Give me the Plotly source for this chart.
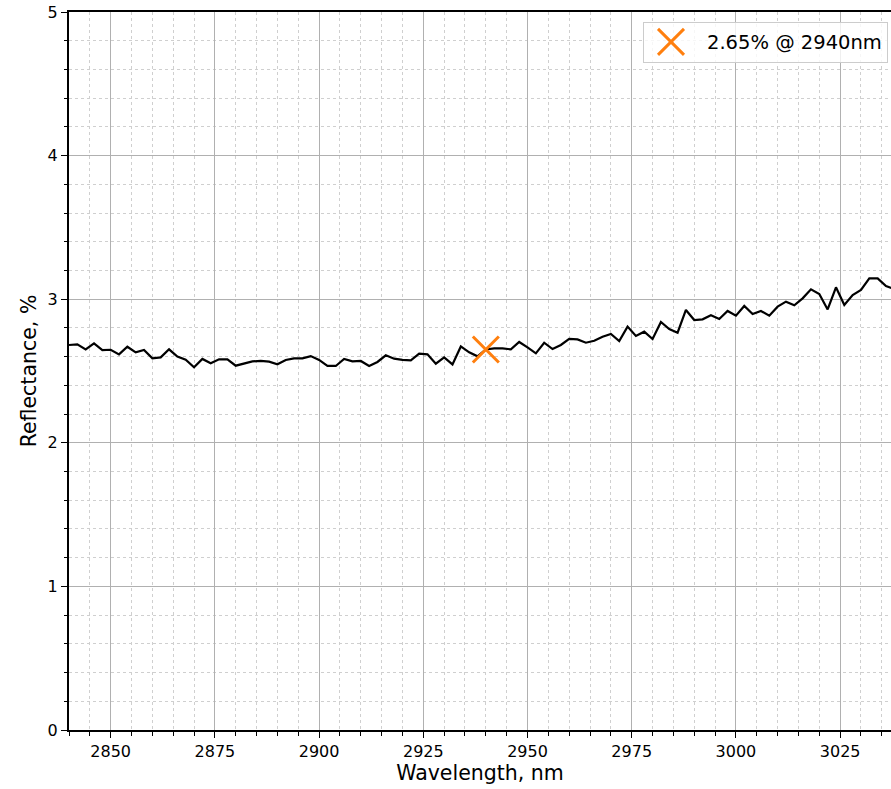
import plotly.graph_objects as go

wavelength_nm = [
    2840, 2842, 2844, 2846, 2848, 2850, 2852, 2854, 2856, 2858,
    2860, 2862, 2864, 2866, 2868, 2870, 2872, 2874, 2876, 2878,
    2880, 2882, 2884, 2886, 2888, 2890, 2892, 2894, 2896, 2898,
    2900, 2902, 2904, 2906, 2908, 2910, 2912, 2914, 2916, 2918,
    2920, 2922, 2924, 2926, 2928, 2930, 2932, 2934, 2936, 2938,
    2940, 2942, 2944, 2946, 2948, 2950, 2952, 2954, 2956, 2958,
    2960, 2962, 2964, 2966, 2968, 2970, 2972, 2974, 2976, 2978,
    2980, 2982, 2984, 2986, 2988, 2990, 2992, 2994, 2996, 2998,
    3000, 3002, 3004, 3006, 3008, 3010, 3012, 3014, 3016, 3018,
    3020, 3022, 3024, 3026, 3028, 3030, 3032, 3034, 3036, 3038,
    3040,
]
reflectance_pct = [
    2.681, 2.686, 2.651, 2.693, 2.646, 2.648, 2.616, 2.669, 2.630, 2.646,
    2.588, 2.595, 2.651, 2.600, 2.579, 2.526, 2.584, 2.554, 2.581, 2.581,
    2.537, 2.554, 2.567, 2.570, 2.565, 2.547, 2.577, 2.588, 2.588, 2.604,
    2.577, 2.535, 2.535, 2.584, 2.567, 2.570, 2.535, 2.563, 2.609, 2.586,
    2.577, 2.574, 2.621, 2.616, 2.551, 2.595, 2.546, 2.671, 2.630, 2.602,
    2.650, 2.657, 2.657, 2.651, 2.702, 2.665, 2.623, 2.697, 2.653, 2.681,
    2.723, 2.720, 2.697, 2.711, 2.739, 2.758, 2.709, 2.809, 2.744, 2.774,
    2.723, 2.841, 2.792, 2.767, 2.925, 2.855, 2.860, 2.888, 2.862, 2.918,
    2.885, 2.953, 2.897, 2.918, 2.885, 2.948, 2.983, 2.958, 3.006, 3.069,
    3.036, 2.929, 3.083, 2.960, 3.029, 3.064, 3.145, 3.145, 3.092, 3.070,
    3.050,
]
marker_wavelength = [2940]
marker_reflectance = [2.65]
marker_label = "2.65% @ 2940nm"

x_ticks = [2850, 2875, 2900, 2925, 2950, 2975, 3000, 3025]
y_ticks = [0, 1, 2, 3, 4, 5]

FONT = "DejaVu Sans"

fig = go.Figure()
fig.add_trace(go.Scatter(
    x=wavelength_nm, y=reflectance_pct, mode="lines",
    line=dict(color="black", width=2.2), showlegend=False, hoverinfo="skip",
))
fig.add_trace(go.Scatter(
    x=marker_wavelength, y=marker_reflectance, mode="markers",
    marker=dict(symbol="x-thin", size=26, line=dict(color="#ff7f0e", width=3), color="#ff7f0e"),
    name=marker_label, showlegend=True,
))

axis_common = dict(
    showline=True, linecolor="black", linewidth=2,
    ticks="outside", ticklen=6, tickwidth=1.3, tickcolor="black",
    showgrid=True, gridcolor="#b0b0b0", gridwidth=1.3,
    zeroline=False,
    tickfont=dict(family=FONT, size=16, color="black"),
)

fig.update_layout(
    width=891, height=789,
    margin=dict(l=69, r=0, t=12, b=59),
    paper_bgcolor="white", plot_bgcolor="white",
    font=dict(family=FONT, color="black"),
    xaxis=dict(
        range=[2840, 3037.2], tickvals=x_ticks, mirror=True,
        title=dict(text="Wavelength, nm", font=dict(family=FONT, size=20.5), standoff=5),
        minor=dict(dtick=5, tick0=2840, showgrid=True, gridcolor="#cfcfcf", griddash="dot",
                   gridwidth=1, ticks="outside", ticklen=3.5, tickcolor="black"),
        **axis_common,
    ),
    yaxis=dict(
        range=[0, 5], tickvals=y_ticks,
        title=dict(text="Reflectance, %", font=dict(family=FONT, size=20.5), standoff=5),
        minor=dict(dtick=0.2, tick0=0, showgrid=True, gridcolor="#cfcfcf", griddash="dot",
                   gridwidth=1, ticks="outside", ticklen=3.5, tickcolor="black"),
        **axis_common,
    ),
    legend=dict(
        x=(643 - 69) / 822, y=(730 - 21.7) / 718, xanchor="left", yanchor="top",
        bgcolor="rgba(255,255,255,0.8)", bordercolor="#cccccc", borderwidth=1,
        font=dict(family=FONT, size=19.5, color="black"),
        itemwidth=53,
    ),
)

post_js = """
document.body.style.margin = '0';
document.body.style.overflow = 'hidden';
document.querySelectorAll('.legend .legendpoints path.scatterpts').forEach(function (p) {
  var t = p.getAttribute('transform') || '';
  p.setAttribute('transform', 'translate(-4.5,0) ' + t + ' scale(1.625)');
  p.setAttribute('vector-effect', 'non-scaling-stroke');
  p.style.vectorEffect = 'non-scaling-stroke';
});
"""

fig.write_html("out.html", post_script=post_js, config={"displayModeBar": False})
